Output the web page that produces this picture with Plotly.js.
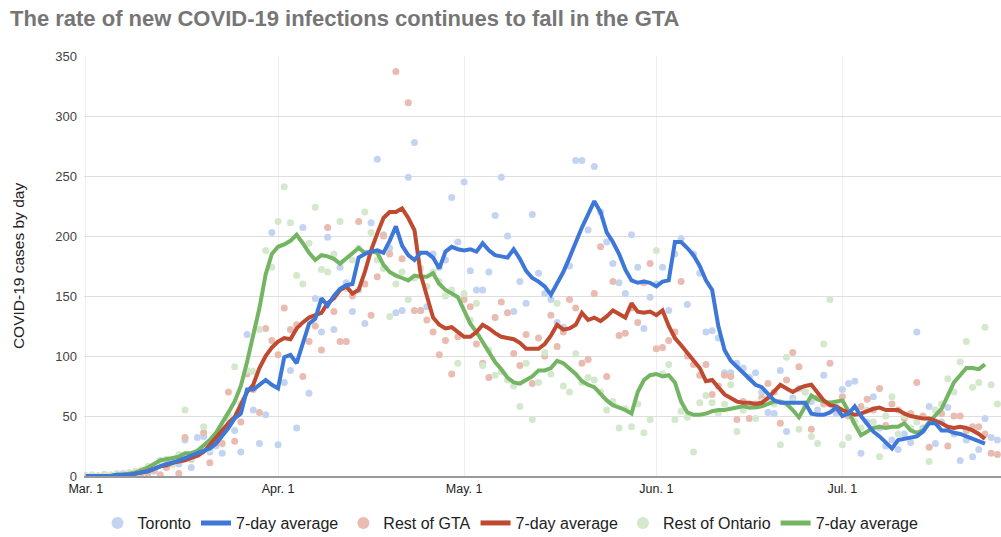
<!DOCTYPE html>
<html>
<head>
<meta charset="utf-8">
<script src="https://cdn.plot.ly/plotly-3.0.1.min.js"></script>
<style>
  html, body { margin: 0; padding: 0; background: #ffffff; }
  #chart { width: 1001px; height: 537px; }
</style>
</head>
<body>
<div id="chart"></div>
<script>
// ---- Data (day 0 = 2020-03-01, one value per day) ----
const startDate = '2020-03-01';

const torontoDaily = [
  0,0,0,1,0,1,2,1,2,3,
  5,4,13,8,12,10,30,7,32,33,
  20,25,19,48,38,20,118,55,27,51,
  203,26,78,88,40,207,69,148,120,199,
  122,174,161,137,155,127,211,264,201,190,
  136,138,249,278,138,141,185,174,180,232,
  195,245,171,155,155,170,217,249,200,137,
  162,144,218,169,152,147,128,124,175,263,
  263,205,258,220,195,177,161,152,201,174,
  123,149,160,174,138,185,198,143,185,169,
  120,121,115,86,86,94,90,82,86,70,
  53,52,88,37,65,73,60,62,55,84,
  60,52,72,77,79,19,45,66,40,25,
  30,22,35,28,120,40,58,27,45,57,
  35,13,30,16,22,48,32,30
];
const torontoAvg = [
  0,0,0,0,0,1,1,1,2,3,
  4,6,8,10,11,13,15,17,19,21,
  23,27,33,40,48,52,72,72,76,80,
  76,73,99,101,94,110,127,131,148,142,
  150,156,159,160,182,185,187,188,186,196,
  208,192,184,180,186,186,182,173,187,191,
  189,188,189,187,194,188,184,183,182,189,
  181,171,165,162,158,151,160,170,182,195,
  207,218,229,220,203,195,185,172,163,161,
  162,161,158,162,163,195,195,190,184,175,
  163,155,125,105,96,91,86,80,76,74,
  68,63,61,61,61,61,61,52,51,51,
  53,57,50,52,58,50,44,37,33,28,
  23,30,31,32,33,37,44,44,38,38,
  36,35,33,31,29,27
];

const restGtaDaily = [
  0,0,0,1,0,1,0,2,1,3,
  2,5,1,7,10,2,32,14,18,36,
  11,27,27,70,29,45,85,72,53,123,
  113,101,140,122,126,83,112,125,105,207,
  137,112,112,150,212,160,134,166,200,185,
  337,181,311,138,138,130,120,101,113,85,
  116,147,141,110,94,82,132,145,136,102,
  92,118,77,115,100,134,108,120,147,140,
  94,97,152,191,83,162,117,119,140,128,
  161,177,106,107,113,120,162,100,93,84,
  93,68,75,84,83,47,62,48,60,65,
  77,70,44,80,103,91,70,39,65,60,
  94,55,66,50,45,58,64,55,73,42,
  60,55,48,52,78,50,24,45,52,25,
  50,50,38,41,41,35,19,18
];
const restGtaAvg = [
  0,0,0,0,0,0,1,1,2,3,
  4,6,8,9,11,12,13,15,17,20,
  26,33,38,44,49,60,70,76,90,100,
  107,112,115,114,123,128,132,134,136,144,
  148,155,158,152,155,170,188,202,215,220,
  220,223,215,205,168,150,132,126,123,124,
  120,116,116,120,126,123,119,116,115,114,
  111,106,106,106,110,117,126,122,123,126,
  136,130,132,129,133,138,135,132,144,137,
  136,137,134,138,125,115,109,103,96,90,
  79,80,74,68,65,62,61,61,60,61,
  65,70,76,73,70,73,75,76,70,63,
  59,58,55,53,51,52,54,56,57,55,
  55,55,52,50,49,48,48,46,44,41,
  40,41,40,38,35,31
];

const restOntarioDaily = [
  0,1,0,1,1,2,1,3,4,5,
  8,7,12,14,10,18,55,15,20,41,
  22,32,40,50,91,60,88,87,122,188,
  174,212,241,211,167,160,194,224,172,170,
  185,212,156,180,190,220,203,180,173,133,
  160,170,147,165,173,158,170,162,150,155,
  94,152,130,144,92,105,84,87,80,75,
  58,94,47,78,103,85,144,75,70,102,
  78,82,80,70,55,62,40,56,41,60,
  36,47,188,85,93,47,54,49,20,61,
  67,61,52,60,76,37,55,58,48,62,
  65,60,26,99,62,39,70,33,27,110,
  147,60,26,32,45,40,55,45,16,50,
  66,35,50,40,45,38,12,55,60,81,
  70,95,112,74,78,124,76,60
];
const restOntarioAvg = [
  0,0,0,0,0,1,1,2,3,5,
  7,10,13,14,15,16,19,19,21,25,
  30,36,44,53,62,75,95,118,140,168,
  185,191,193,196,201,194,186,180,184,183,
  181,177,181,185,190,186,187,186,176,170,
  167,165,163,167,166,166,169,160,155,152,
  149,138,127,120,112,103,95,89,82,78,
  77,80,83,88,88,90,96,94,90,85,
  79,76,74,68,63,59,57,55,52,70,
  80,84,85,83,84,78,62,53,51,51,
  52,54,55,55,56,57,58,57,57,58,
  60,62,62,60,55,49,58,67,64,62,
  61,62,63,54,43,34,37,40,41,40,
  41,41,44,38,36,38,45,50,56,67,
  78,84,90,90,89,93
];

const seriesNames = ['Toronto', '7-day average', 'Rest of GTA', '7-day average', 'Rest of Ontario', '7-day average'];
const tickDates = ['2020-03-01', '2020-04-01', '2020-05-01', '2020-06-01', '2020-07-01'];
const tickLabels = ['Mar. 1', 'Apr. 1', 'May. 1', 'Jun. 1', 'Jul. 1'];
const yTicks = [0, 50, 100, 150, 200, 250, 300, 350];

// ---- helpers ----
function datesFor(n) {
  const out = [];
  const base = new Date(startDate + 'T00:00:00Z');
  for (let i = 0; i < n; i++) {
    const d = new Date(base.getTime() + i * 86400000);
    out.push(d.toISOString().slice(0, 10));
  }
  return out;
}

const FONT = 'Liberation Sans, Arial, Helvetica, sans-serif';
const blueLine = '#3d77d8', redLine = '#bf4a30', greenLine = '#74b563';
const blueDot = '#c3d4f3', redDot = '#e9bbb1', greenDot = '#d4e8cc';

function dots(vals, name, color, rank) {
  return {
    type: 'scatter', mode: 'markers', name: name, legendrank: rank,
    x: datesFor(vals.length), y: vals,
    marker: { color: color, size: 7, line: { width: 0 } },
    hoverinfo: 'x+y'
  };
}
function avgLine(vals, name, color, rank) {
  return {
    type: 'scatter', mode: 'lines', name: name, legendrank: rank,
    x: datesFor(vals.length), y: vals,
    line: { color: color, width: 4 },
    hoverinfo: 'x+y'
  };
}

const traces = [
  dots(torontoDaily, seriesNames[0], blueDot, 1),
  dots(restGtaDaily, seriesNames[2], redDot, 3),
  dots(restOntarioDaily, seriesNames[4], greenDot, 5),
  avgLine(restOntarioAvg, seriesNames[5], greenLine, 6),
  avgLine(restGtaAvg, seriesNames[3], redLine, 4),
  avgLine(torontoAvg, seriesNames[1], blueLine, 2)
];

const layout = {
  width: 1001, height: 537,
  margin: { l: 84, r: 0, t: 56, b: 61, autoexpand: false },
  paper_bgcolor: '#ffffff', plot_bgcolor: '#ffffff',
  font: { family: FONT, color: '#222222' },
  title: {
    text: '<b>The rate of new COVID-19 infections continues to fall in the GTA</b>',
    font: { family: FONT, size: 22, color: '#767676' },
    x: 0.01, xanchor: 'left', xref: 'container',
    y: 0.966, yanchor: 'middle', yref: 'container'
  },
  xaxis: {
    type: 'date',
    range: ['2020-02-29 17:00', '2020-07-26 14:00'],
    tickmode: 'array', tickvals: tickDates, ticktext: tickLabels,
    tickfont: { family: FONT, size: 12.5, color: '#222222' },
    showgrid: true, gridcolor: '#efefef', gridwidth: 1,
    showline: true, linecolor: '#999999', linewidth: 2,
    ticks: '', zeroline: false, fixedrange: true
  },
  yaxis: {
    range: [0, 350],
    tickmode: 'array', tickvals: yTicks,
    tickfont: { family: FONT, size: 13, color: '#444444' },
    showgrid: true, gridcolor: '#dedede', gridwidth: 1,
    zeroline: false, showline: false, ticks: '',
    ticklabelstandoff: 6,
    title: { text: 'COVID-19 cases by day', font: { family: FONT, size: 15.5, color: '#222222' }, standoff: 26 },
    fixedrange: true
  },
  showlegend: true,
  legend: {
    orientation: 'h',
    xref: 'container', x: 0.51, xanchor: 'center',
    yref: 'container', y: 0.026, yanchor: 'middle',
    font: { family: FONT, size: 16, color: '#222222' },
    itemwidth: 30, itemsizing: 'constant',
    bgcolor: 'rgba(0,0,0,0)'
  },
  hovermode: 'closest'
};

Plotly.newPlot('chart', traces, layout, { displayModeBar: false, staticPlot: true });
</script>
</body>
</html>
